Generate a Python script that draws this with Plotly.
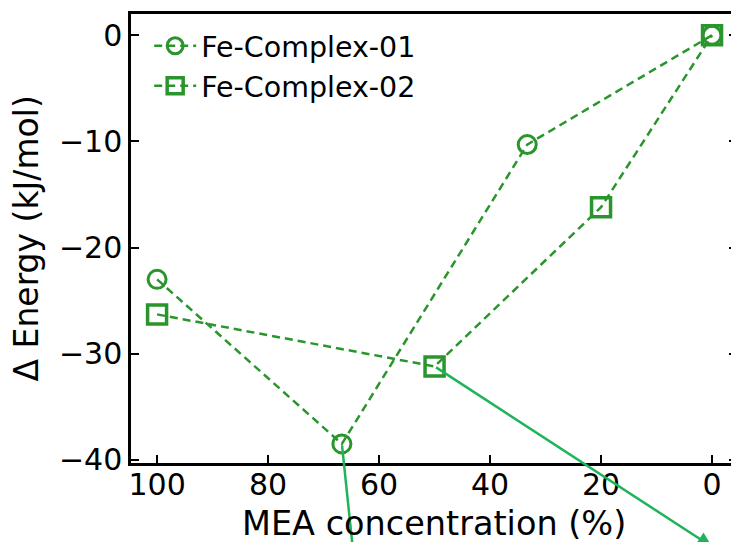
import plotly.graph_objects as go

# Data
mea_01 = [100, 66.7, 33.3, 0]
energy_01 = [-23.0, -38.5, -10.3, 0.0]
mea_02 = [100, 50, 20, 0]
energy_02 = [-26.3, -31.2, -16.2, 0.0]
names = ["Fe-Complex-01", "Fe-Complex-02"]

# Arrow tails (at data points) and heads (outside the axes)
arrow_tail_x = [66.7, 50]
arrow_tail_y = [-38.5, -31.2]
arrow_head_x = [64.5, 0.0]
arrow_head_y = [-49.5, -48.2]

x_ticks = [100, 80, 60, 40, 20, 0]
y_ticks = [0, -10, -20, -30, -40]

GREEN = "#2a952c"
ARROW = "#1fb45a"
FONT = "DejaVu Sans"

def fmt(v):
    return str(v).replace("-", "\u2212")

fig = go.Figure()
fig.add_trace(go.Scatter(
    x=mea_01, y=energy_01, name=names[0], mode="lines+markers",
    line=dict(color=GREEN, width=2.5, dash="8px,5px"),
    marker=dict(symbol="circle-open", size=18, color=GREEN, line=dict(width=3, color=GREEN)),
))
fig.add_trace(go.Scatter(
    x=mea_02, y=energy_02, name=names[1], mode="lines+markers",
    line=dict(color=GREEN, width=2.5, dash="8px,5px"),
    marker=dict(symbol="square-open", size=19, color=GREEN, line=dict(width=3.5, color=GREEN)),
))

for tx, ty, hx, hy in zip(arrow_tail_x, arrow_tail_y, arrow_head_x, arrow_head_y):
    fig.add_annotation(
        x=hx, y=hy, ax=tx, ay=ty, xref="x", yref="y", axref="x", ayref="y",
        showarrow=True, arrowhead=2, arrowsize=1.2, arrowwidth=2.5,
        arrowcolor=ARROW, text="", standoff=0, startstandoff=0,
    )

# Axis titles
fig.add_annotation(
    text="MEA concentration (%)", xref="paper", yref="paper", x=0.5, y=0,
    xanchor="center", yanchor="middle", yshift=-60, showarrow=False,
    font=dict(size=33.5, family=FONT, color="black"),
)
fig.add_annotation(
    text="Δ Energy (kJ/mol)", xref="paper", yref="paper", x=0, y=0.5,
    xanchor="center", yanchor="middle", xshift=-105, textangle=-90, showarrow=False,
    font=dict(size=33, family=FONT, color="black"),
)

fig.update_layout(
    width=739, height=542,
    margin=dict(l=123, r=10, t=6, b=87),
    paper_bgcolor="white", plot_bgcolor="white",
    font=dict(family=FONT, size=30, color="black"),
    showlegend=True,
    legend=dict(
        x=0.03, y=0.985, xanchor="left", yanchor="top",
        bgcolor="rgba(0,0,0,0)", font=dict(size=28.5, family=FONT),
        itemwidth=42, tracegroupgap=0, borderwidth=0,
    ),
    xaxis=dict(
        range=[104.7, -4.5], tickvals=x_ticks, ticktext=[fmt(v) for v in x_ticks],
        ticks="inside", ticklen=8, tickwidth=2, tickcolor="black",
        showline=True, linecolor="black", linewidth=2.5, mirror=True,
        showgrid=False, zeroline=False, automargin=False,
        tickfont=dict(size=30, family=FONT), ticklabelstandoff=-7,
    ),
    yaxis=dict(
        range=[-40.3, 2.0], tickvals=y_ticks, ticktext=[fmt(v) for v in y_ticks],
        ticks="inside", ticklen=8, tickwidth=2, tickcolor="black",
        showline=True, linecolor="black", linewidth=2.5, mirror="ticks",
        showgrid=False, zeroline=False, automargin=False,
        tickfont=dict(size=30, family=FONT),
    ),
)

fig.write_html("out.html")
